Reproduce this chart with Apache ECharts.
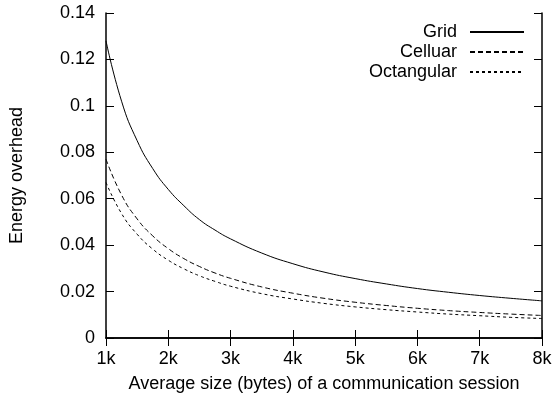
<!DOCTYPE html>
<html>
<head>
<meta charset="utf-8">
<script src="https://cdn.jsdelivr.net/npm/echarts@6/dist/echarts.min.js"></script>
<style>
  html, body { margin: 0; padding: 0; background: #fff; }
  #chart { width: 556px; height: 394px; }
</style>
</head>
<body>
<div id="chart"></div>
<script>
  // session size in k bytes
  const sizes = [1, 1.25, 1.5, 1.75, 2, 2.25, 2.5, 2.75, 3, 3.5, 4, 4.5, 5, 5.5, 6, 6.5, 7, 7.5, 8];
  const grid = [0.128, 0.102, 0.085, 0.073, 0.064, 0.057, 0.051, 0.0465, 0.0427, 0.0366, 0.032, 0.0284, 0.0256, 0.0233, 0.0213, 0.0197, 0.0183, 0.0171, 0.016];
  const celluar = [0.077, 0.0616, 0.0513, 0.044, 0.0385, 0.0342, 0.0308, 0.028, 0.0257, 0.022, 0.0193, 0.0171, 0.0154, 0.014, 0.0128, 0.0118, 0.011, 0.0103, 0.0097];
  const octangular = [0.067, 0.0536, 0.0447, 0.0383, 0.0335, 0.0298, 0.0268, 0.0244, 0.0223, 0.0191, 0.0168, 0.0149, 0.0134, 0.0122, 0.0112, 0.0103, 0.0096, 0.0089, 0.0084];
  const seriesNames = ['Grid', 'Celluar', 'Octangular'];

  const font = 'Liberation Sans, Arial, sans-serif';
  const pairs = vals => sizes.map((s, i) => [s, vals[i]]);

  const chart = echarts.init(document.getElementById('chart'));

  const axisBase = {
    axisLine: { show: true, lineStyle: { color: '#000', width: 1.5 } },
    axisTick: { show: true, inside: true, length: 8, lineStyle: { color: '#000', width: 1 } },
    splitLine: { show: false }
  };

  function line(name, vals, type) {
    return {
      name: name,
      type: 'line',
      data: pairs(vals),
      smooth: true,
      symbol: 'none',
      lineStyle: { color: '#000', width: 1, type: type },
      itemStyle: { color: '#000' },
      animation: false
    };
  }

  chart.setOption({
    backgroundColor: '#fff',
    textStyle: { fontFamily: font },
    grid: { left: 106, right: 14, top: 13, bottom: 56, outerBoundsMode: 'none' },
    legend: {
      orient: 'vertical',
      right: 26,
      top: 18,
      align: 'right',
      itemWidth: 54,
      itemHeight: 14,
      itemGap: 2,
      itemStyle: { opacity: 0 },
      textStyle: { fontFamily: font, fontSize: 18, color: '#000', padding: [0, 8, 0, 0] },
      data: seriesNames
    },
    xAxis: [
      Object.assign({}, axisBase, {
        type: 'value', min: 1, max: 8, interval: 1,
        name: 'Average size (bytes) of a communication session',
        nameLocation: 'middle', nameGap: 37,
        nameTextStyle: { fontFamily: font, fontSize: 18, color: '#000' },
        axisLabel: { formatter: '{value}k', color: '#000', fontSize: 18, margin: 12, fontFamily: font }
      }),
      Object.assign({}, axisBase, {
        type: 'value', min: 1, max: 8, interval: 1, position: 'top',
        axisLabel: { show: false }
      })
    ],
    yAxis: [
      Object.assign({}, axisBase, {
        type: 'value', min: 0, max: 0.14, interval: 0.02,
        name: 'Energy overhead',
        nameLocation: 'middle', nameGap: 80,
        nameTextStyle: { fontFamily: font, fontSize: 18, color: '#000' },
        axisLabel: { color: '#000', fontSize: 18, margin: 11, fontFamily: font }
      }),
      Object.assign({}, axisBase, {
        type: 'value', min: 0, max: 0.14, interval: 0.02, position: 'right',
        axisLabel: { show: false }
      })
    ],
    series: [
      line('Grid', grid, 'solid'),
      line('Celluar', celluar, [5, 3]),
      line('Octangular', octangular, [3, 3])
    ]
  });
</script>
</body>
</html>
